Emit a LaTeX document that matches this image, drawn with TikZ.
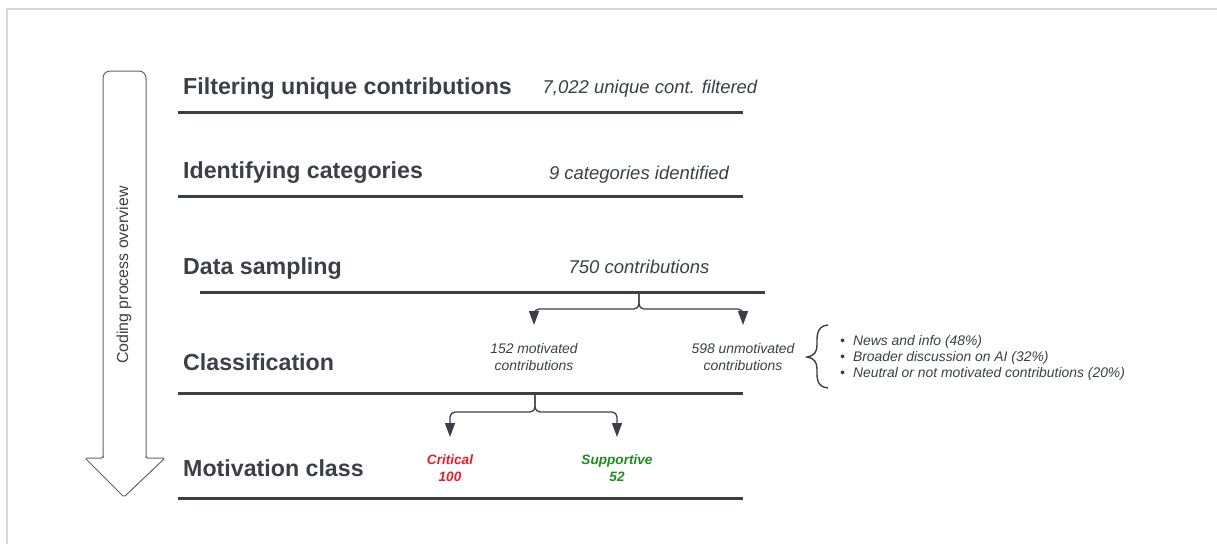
\documentclass[tikz,border=0pt]{standalone}
\usepackage{fontspec}
\setmainfont{Liberation Sans}
\usetikzlibrary{arrows.meta}
\definecolor{ink}{HTML}{3B3F47}
\definecolor{frame}{HTML}{D6D6D6}
\definecolor{crit}{HTML}{EE1C25}
\definecolor{supp}{HTML}{1E8C1E}
\tikzset{
  stage/.style={anchor=base west, inner sep=0pt, text=ink, font=\fontsize{23.2}{27}\selectfont\bfseries},
  note/.style={anchor=base, inner sep=0pt, text=ink, font=\fontsize{18.5}{22}\selectfont\itshape},
  small/.style={inner sep=0pt, text=ink, align=center, font=\fontsize{13.9}{16.5}\selectfont\itshape},
  bul/.style={inner sep=0pt, anchor=west, text=ink, align=left, font=\fontsize{13.9}{16.3}\selectfont\itshape},
  cls/.style={inner sep=0pt, align=center, font=\fontsize{13.6}{17}\selectfont\bfseries\itshape},
  rule/.style={ink, line width=3pt},
  branch/.style={ink, line width=1.3pt, rounded corners=5pt, -{Triangle[width=10pt,length=14pt]}},
}
\begin{document}
\begin{tikzpicture}[x=1pt,y=-1pt]
\useasboundingbox (0,0) rectangle (1217,544);
% frame
\draw[frame, line width=2pt] (7,544) -- (7,9) -- (1217,9);
% big arrow
\draw[ink!80, line width=1pt, rounded corners=7pt] (103,458) -- (103,71) -- (146,71) -- (146,458);
\draw[ink!80, line width=1pt, rounded corners=1.5pt] (146,457) -- (146,458) -- (165,458) -- (124,497) -- (85,458) -- (103,458) -- (103,457);
\node[rotate=90, inner sep=0pt, text=ink, font=\fontsize{15.9}{18}\selectfont] (arrowtxt) at (124,275) {Coding process overview};
% stages
\node[stage] (s1) at (183,94) {Filtering unique contributions};
\node[note] (n1) at (650,93.5) {7,022 unique cont. filtered};
\draw[rule] (178,112) coordinate (l1a) -- (743,112) coordinate (l1b);
\node[stage] (s2) at (183,178) {Identifying categories};
\node[note] (n2) at (639,179.5) {9 categories identified};
\draw[rule] (178,196) coordinate (l2a) -- (743,196) coordinate (l2b);
\node[stage] (s3) at (183,274) {Data sampling};
\node[note] (n3) at (639,273) {750 contributions};
\draw[rule] (200,292) coordinate (l3a) -- (765,292) coordinate (l3b);
\node[stage] (s4) at (183,370) {Classification};
\draw[rule] (178,393) coordinate (l4a) -- (743,393) coordinate (l4b);
\node[stage] (s5) at (183,476) {Motivation class};
\draw[rule] (178,498) coordinate (l5a) -- (743,498) coordinate (l5b);
% classification nodes
\node[small] (mot) at (534,357) {152 motivated\\contributions};
\node[small] (unmot) at (743,357) {598 unmotivated\\contributions};
\coordinate (j1) at (639,292);
\coordinate (j1t) at (534,325);
\coordinate (j1u) at (743,325);
\draw[branch] (j1) -- (639,309) -- (j1t |- 0,309) -- (j1t);
\draw[branch] (j1) -- (639,309) -- (j1u |- 0,309) -- (j1u);
% brace and bullets
\draw[ink, line width=1.4pt] (828,325) .. controls (816,326) and (817,337) .. (817,345) .. controls (817,352) and (814,356) .. (807,357) .. controls (814,358) and (817,362) .. (817,369) .. controls (817,377) and (816,387) .. (828,388);
\node[bul] (list) at (840,358) {\textbullet\hspace{8pt}News and info (48\%)\\\textbullet\hspace{8pt}Broader discussion on AI (32\%)\\\textbullet\hspace{8pt}Neutral or not motivated contributions (20\%)};
% motivation classes
\node[cls, text=crit] (crit) at (450,468) {Critical\\100};
\node[cls, text=supp] (supp) at (617,468) {Supportive\\52};
\coordinate (j2) at (535,393);
\coordinate (j2l) at (450,437);
\coordinate (j2r) at (617,437);
\draw[branch] (j2) -- (535,412) -- (j2l |- 0,412) -- (j2l);
\draw[branch] (j2) -- (535,412) -- (j2r |- 0,412) -- (j2r);
\end{tikzpicture}
\end{document}
